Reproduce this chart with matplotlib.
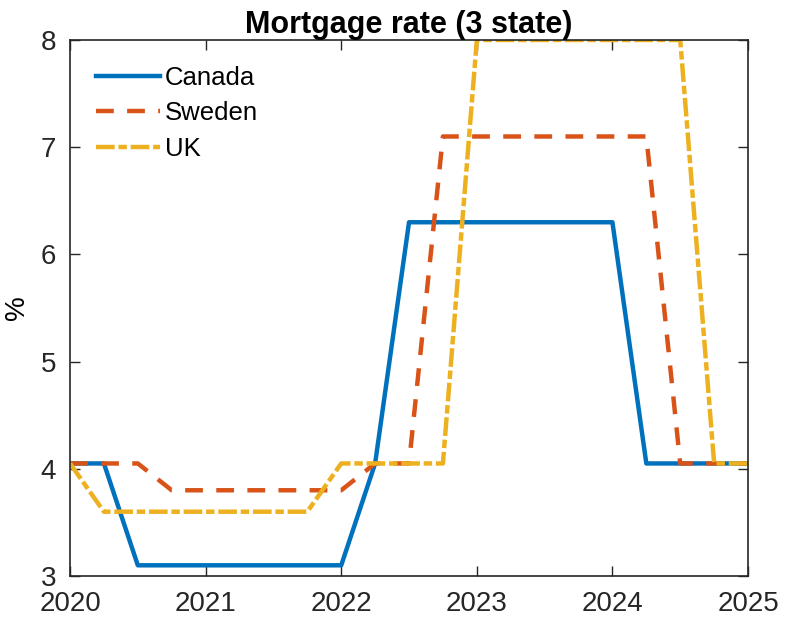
import matplotlib.pyplot as plt

plt.rcParams['font.family'] = ['Liberation Sans', 'DejaVu Sans']

# quarterly dates
quarters = [2020 + 0.25 * i for i in range(21)]

canada = [4.05, 4.05, 3.1, 3.1, 3.1, 3.1, 3.1, 3.1, 3.1, 4.05, 6.3,
          6.3, 6.3, 6.3, 6.3, 6.3, 6.3, 4.05, 4.05, 4.05, 4.05]
sweden = [4.05, 4.05, 4.05, 3.8, 3.8, 3.8, 3.8, 3.8, 3.8, 4.05, 4.05,
          7.1, 7.1, 7.1, 7.1, 7.1, 7.1, 7.1, 4.05, 4.05, 4.05]
uk = [4.05, 3.6, 3.6, 3.6, 3.6, 3.6, 3.6, 3.6, 4.05, 4.05, 4.05,
      4.05, 8.0, 8.0, 8.0, 8.0, 8.0, 8.0, 8.0, 4.05, 4.05]

fig = plt.figure(figsize=(7.85, 6.23), dpi=100)
ax = fig.add_axes([0.0892, 0.0754, 0.8637, 0.8604])

ax.plot(quarters, canada, color='#0072BD', lw=3.2, label='Canada')
ax.plot(quarters, sweden, color='#D95319', lw=3.2, ls=(0, (4.0, 3.0)), label='Sweden')
ax.plot(quarters, uk, color='#EDB120', lw=3.2, ls=(0, (4.2, 0.85, 1.9, 0.85)), label='UK')

ax.set_xlim(2020, 2025)
ax.set_ylim(3, 8)
ax.set_xticks(range(2020, 2026))
ax.set_yticks(range(3, 9))
ax.tick_params(direction='in', labelsize=20, length=7, width=1, top=True, right=True, colors='#262626')
ax.tick_params(axis='x', pad=11)
ax.tick_params(axis='y', pad=10)
for s in ax.spines.values():
    s.set_linewidth(1.2)
    s.set_color('#262626')

ax.set_ylabel('%', fontsize=20, labelpad=8)
ax.set_title('Mortgage rate (3 state)', fontsize=22, fontweight='bold', pad=5)
ax.legend(loc='upper left', frameon=False, fontsize=18.5, handlelength=2.5,
          handletextpad=0.2, labelspacing=0.45, borderaxespad=0.5,
          borderpad=0.5)

fig.savefig('out.png', dpi=100)
